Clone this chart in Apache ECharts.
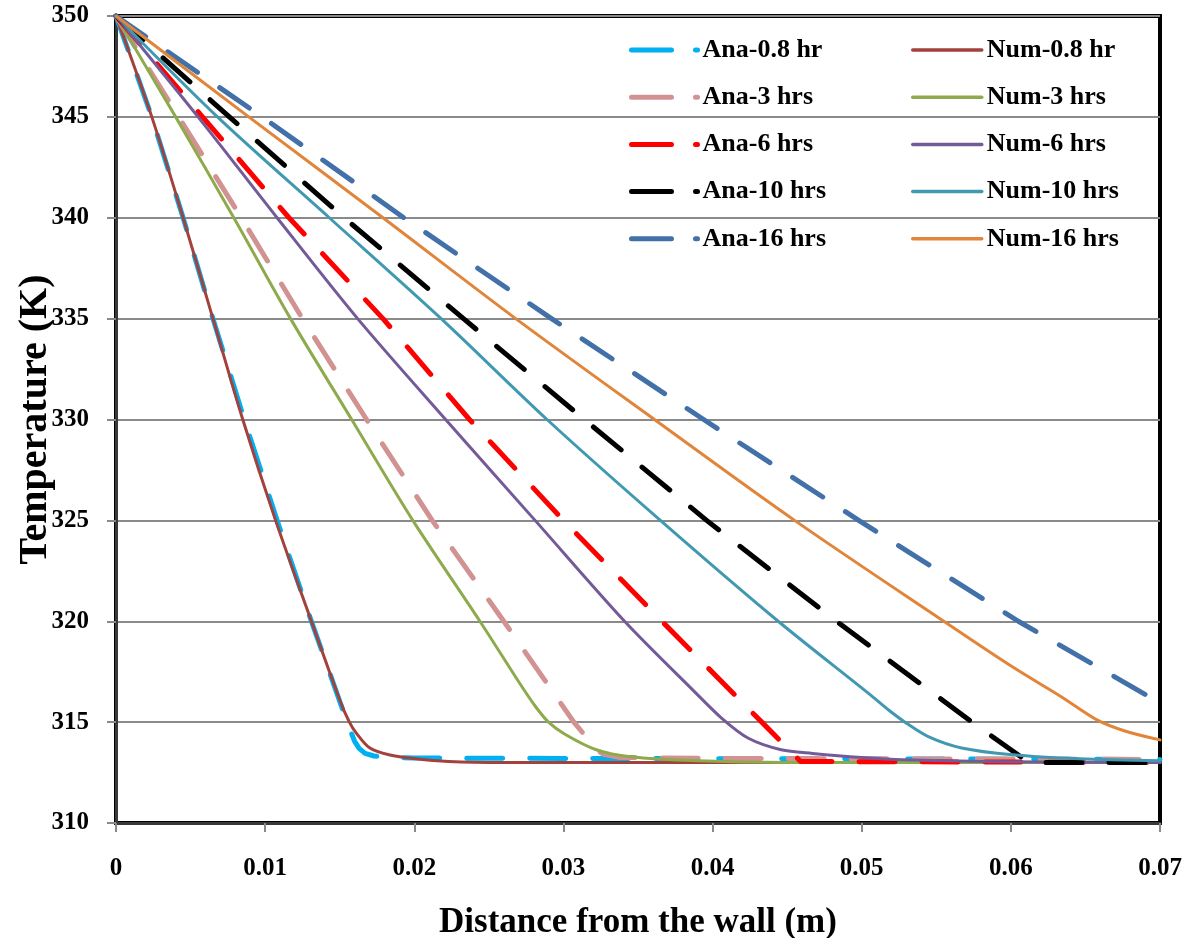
<!DOCTYPE html>
<html>
<head>
<meta charset="utf-8">
<script src="https://cdn.jsdelivr.net/npm/echarts@6/dist/echarts.min.js"></script>
<style>
html,body{margin:0;padding:0;background:#fff;}
#chart{width:1197px;height:938px;}
</style>
</head>
<body>
<div id="chart"></div>
<script>
// ---- tick labels ----
const xTickLabels = ['0', '0.01', '0.02', '0.03', '0.04', '0.05', '0.06', '0.07'];
const yTickLabels = ['310', '315', '320', '325', '330', '335', '340', '345', '350'];

// ---- series names ----
const anaNames = ['Ana-0.8 hr', 'Ana-3 hrs', 'Ana-6 hrs', 'Ana-10 hrs', 'Ana-16 hrs'];
const numNames = ['Num-0.8 hr', 'Num-3 hrs', 'Num-6 hrs', 'Num-10 hrs', 'Num-16 hrs'];

// ---- data: [distance (m), temperature (K)] ----
const ana08 = [[0,350],[0.0024,345],[0.0045,340],[0.0065,335],[0.0086,330],[0.0108,325],[0.0131,320],[0.0154,315.2],[0.0157,314.6],[0.0160,314.05],[0.0163,313.7],[0.0167,313.45],[0.0173,313.32],[0.0182,313.27],[0.020,313.22],[0.030,313.2],[0.050,313.18],[0.070,313.15]];
const num08 = [[0,350],[0.0024,345],[0.0045,340],[0.0065,335],[0.0085,330],[0.0107,325],[0.0131,320],[0.0150,316.1],[0.01565,315],[0.0161,314.47],[0.0170,313.73],[0.0183,313.38],[0.0201,313.18],[0.0223,313.05],[0.026,313.0],[0.070,313.0]];
const ana3 = [[0,350],[0.0042,345],[0.0084,340],[0.0125,335],[0.0168,330],[0.0212,325],[0.0260,320],[0.0307,315],[0.0316,314.2],[0.0321,313.7],[0.0327,313.4],[0.0338,313.25],[0.040,313.2],[0.070,313.15]];
const num3 = [[0,350],[0.0040,345],[0.0079,340],[0.0117,335],[0.0158,330],[0.0199,325],[0.0244,320],[0.0270,317.0],[0.0281,315.8],[0.0290,315.0],[0.0301,314.4],[0.0322,313.63],[0.0345,313.28],[0.0390,313.08],[0.045,313.0],[0.070,313.0]];
const ana6 = [[0,350],[0.0058,345],[0.0116,340],[0.0179,335],[0.0237,330],[0.0300,325],[0.0366,320],[0.0433,315],[0.0459,313.05],[0.070,313.0]];
const num6 = [[0,350],[0.0055,345],[0.0108,340],[0.0162,335],[0.0221,330],[0.0281,325],[0.0341,320],[0.0388,316.5],[0.0406,315.2],[0.0424,314.2],[0.0446,313.63],[0.0467,313.45],[0.050,313.25],[0.0534,313.12],[0.060,313.03],[0.070,313.0]];
const ana10 = [[0,350],[0.0076,345],[0.0153,340],[0.0233,335],[0.0314,330],[0.0396,325],[0.0483,320],[0.0574,315],[0.0612,313.0],[0.070,313.0]];
const num10 = [[0,350],[0.0068,345],[0.0143,340],[0.0218,335],[0.0289,330],[0.0365,325],[0.0444,320],[0.0505,316.4],[0.0518,315.6],[0.0530,314.95],[0.0545,314.27],[0.0567,313.72],[0.0601,313.38],[0.0646,313.18],[0.070,313.08]];
const ana16 = [[0,350],[0.0098,345],[0.0193,340],[0.0292,335],[0.0394,330],[0.0498,325],[0.0605,320],[0.070,315.95]];
const num16 = [[0,350],[0.0089,345],[0.0179,340],[0.0268,335],[0.0361,330],[0.0455,325],[0.0555,320],[0.0601,317.74],[0.0634,316.25],[0.0658,315.1],[0.0677,314.55],[0.070,314.12]];

// ---- colours ----
const anaColors = ['#00B0F0', '#D39292', '#FF0000', '#000000', '#4270A8'];
const numColors = ['#A3413D', '#8EAA4C', '#735A98', '#4199B1', '#E0853A'];

const anaData = [ana08, ana3, ana6, ana10, ana16];
const numData = [num08, num3, num6, num10, num16];

const FONT = "'Liberation Serif', 'DejaVu Serif', serif";

const series = [];
for (let i = 0; i < 5; i++) {
  series.push({
    name: anaNames[i], type: 'line', data: anaData[i], symbol: 'none',
    smooth: false,
    lineStyle: { color: anaColors[i], width: 5, type: [36, 27], cap: 'round', join: 'round' },
    itemStyle: { color: anaColors[i] }
  });
  series.push({
    name: numNames[i], type: 'line', data: numData[i], symbol: 'none',
    smooth: 0.3,
    lineStyle: { color: numColors[i], width: 3, type: 'solid', cap: 'round', join: 'round' },
    itemStyle: { color: numColors[i] }
  });
}

const legendText = { fontFamily: FONT, fontWeight: 'bold', fontSize: 26, color: '#000', lineHeight: 24 };
const hiddenSymbol = { color: 'rgba(0,0,0,0)', borderColor: 'rgba(0,0,0,0)', borderWidth: 0, opacity: 0 };

const chart = echarts.init(document.getElementById('chart'), null, { renderer: 'canvas' });
chart.setOption({
  animation: false,
  backgroundColor: '#ffffff',
  textStyle: { fontFamily: FONT },
  grid: { left: 116, top: 16, right: 37, bottom: 115, show: true, borderColor: '#000', borderWidth: 4, outerBoundsMode: 'none', containLabel: false },
  legend: [
    {
      data: anaNames, orient: 'vertical', left: 624, top: 32,
      itemWidth: 66, itemHeight: 12, itemGap: 21.2,
      lineStyle: { type: [40, 24], width: 5, cap: 'round' },
      itemStyle: hiddenSymbol,
      textStyle: legendText
    },
    {
      data: numNames, orient: 'vertical', left: 906, top: 32,
      itemWidth: 69, itemHeight: 12, itemGap: 21.2,
      lineStyle: { width: 3.5, cap: 'round' },
      itemStyle: hiddenSymbol,
      textStyle: legendText
    }
  ],
  xAxis: {
    type: 'value', min: 0, max: 0.07, interval: 0.01,
    name: 'Distance from the wall (m)', nameLocation: 'middle', nameGap: 82, nameMoveOverlap: false,
    nameTextStyle: { fontFamily: FONT, fontWeight: 'bold', fontSize: 35, color: '#000' },
    axisLine: { show: true, onZero: false, lineStyle: { color: '#3a3a3a', width: 3 } },
    axisTick: { show: true, inside: false, length: 9, lineStyle: { color: '#8a8a8a', width: 2 } },
    axisLabel: {
      margin: 33, fontFamily: FONT, fontWeight: 'bold', fontSize: 25, color: '#000',
      formatter: v => xTickLabels[Math.round(v / 0.01)]
    },
    splitLine: { show: false }
  },
  yAxis: {
    type: 'value', min: 310, max: 350, interval: 5,
    name: 'Temperature (K)', nameLocation: 'middle', nameGap: 60, nameRotate: 90, nameMoveOverlap: false,
    nameTextStyle: { fontFamily: FONT, fontWeight: 'bold', fontSize: 40, color: '#000' },
    axisLine: { show: true, onZero: false, lineStyle: { color: '#3a3a3a', width: 3 } },
    axisTick: { show: true, inside: false, length: 9, lineStyle: { color: '#8a8a8a', width: 2 } },
    axisLabel: {
      margin: 27, fontFamily: FONT, fontWeight: 'bold', fontSize: 25, color: '#000',
      formatter: v => yTickLabels[Math.round((v - 310) / 5)]
    },
    splitLine: { show: true, lineStyle: { color: '#8a8a8a', width: 2 } }
  },
  series: series
});
</script>
</body>
</html>
